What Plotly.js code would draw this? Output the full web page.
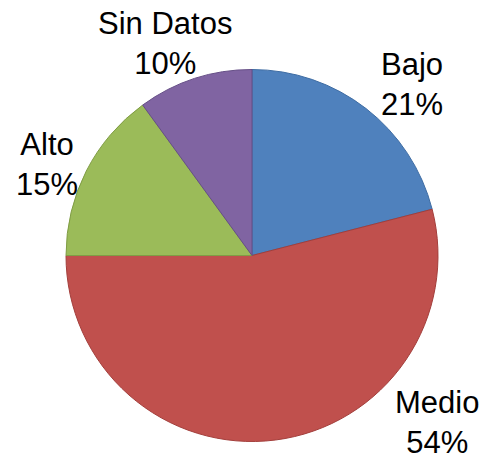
<!DOCTYPE html>
<html>
<head>
<meta charset="utf-8">
<script src="https://cdn.plot.ly/plotly-3.0.1.min.js"></script>
<style>
  html, body { margin: 0; padding: 0; background: #fff; }
  #plot { width: 484px; height: 462px; }
</style>
</head>
<body>
<div id="plot"></div>
<script>
// categories and shares (percent), clockwise from 12 o'clock
var categorias = ["Bajo", "Medio", "Alto", "Sin Datos"];
var valores = [21, 54, 15, 10];

var colores = ["#4F81BD", "#C0504D", "#9BBB59", "#8064A2"];
var bordes = ["#3E6CA3", "#A33E3B", "#809D45", "#664F87"];

// where each label sits (paper coords), Excel-style outside labels
var etiquetaX = [0.851, 0.903, 0.097, 0.340];
var etiquetaY = [0.818, 0.085, 0.643, 0.905];

function createPie() {
    var trace1 = {
        type: "pie",
        labels: categorias,
        values: valores,
        sort: false,
        direction: "clockwise",
        rotation: 0,
        textinfo: "none",
        hoverinfo: "label+percent",
        marker: {
            colors: colores,
            line: {color: bordes, width: 1}
        },
        domain: {
            x: [66 / 484, 438 / 484],
            y: [20.5 / 462, 392.5 / 462]
        }
    };

    var annotations = categorias.map(function (c, i) {
        return {
            text: c + "<br>" + valores[i] + "%",
            x: etiquetaX[i],
            y: etiquetaY[i],
            xref: "paper",
            yref: "paper",
            xanchor: "center",
            yanchor: "middle",
            borderpad: 0,
            showarrow: false,
            font: {family: "Liberation Sans, Arial, sans-serif", size: 31, color: "#000"}
        };
    });

    var layout = {
        width: 484,
        height: 462,
        showlegend: false,
        margin: {t: 0, l: 0, r: 0, b: 0},
        paper_bgcolor: "#fff",
        annotations: annotations
    };

    Plotly.newPlot("plot", [trace1], layout, {displayModeBar: false});
}

createPie();
</script>
</body>
</html>
